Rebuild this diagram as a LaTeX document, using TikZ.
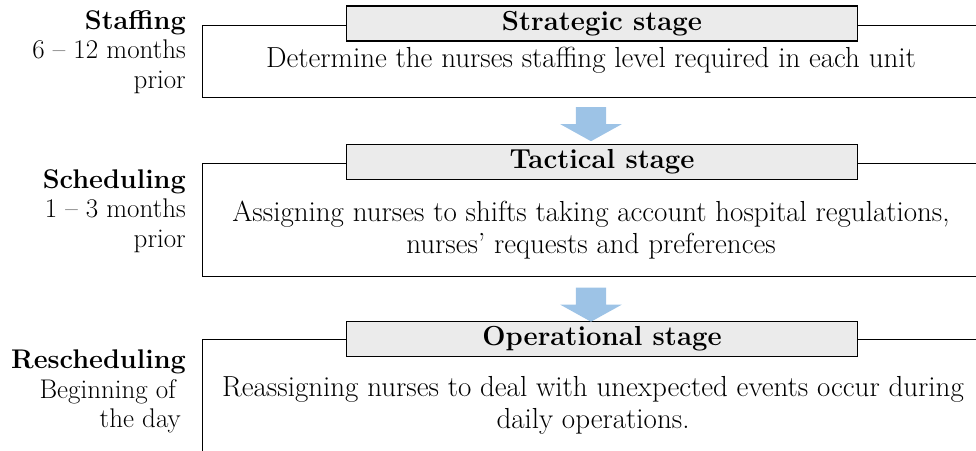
\documentclass[tikz,border=0pt]{standalone}
\usepackage{fontspec}
\usepackage{tikz}
\usetikzlibrary{shapes.arrows}
\usetikzlibrary{backgrounds}

\definecolor{stagegray}{HTML}{EBEBEB}
\definecolor{flowblue}{HTML}{9DC3E6}

\begin{document}
\begin{tikzpicture}[x=1pt, y=-1pt,
    every node/.style={font=\fontsize{29}{32}\selectfont},
    outer/.style={draw, line width=1.3pt, anchor=north west, inner sep=0pt},
    stage/.style={draw, line width=1.3pt, fill=stagegray, minimum width=511pt, minimum height=35pt, inner sep=0pt, font=\fontsize{27.5}{30}\selectfont\bfseries},
    body/.style={align=center},
    when/.style={align=right, anchor=east, inner sep=0pt, font=\fontsize{27}{29.5}\selectfont},
    flow/.style={single arrow, fill=flowblue, rotate=-90, inner xsep=0pt, inner ysep=15pt, minimum height=34pt, single arrow head extend=15.5pt, single arrow tip angle=122}]
        \useasboundingbox (0,0) rectangle (976,450);
        \clip (0,0) rectangle (976,450);

        \node[outer, minimum width=820pt, minimum height=72pt] (box1) at (202,25) {};
        \node[outer, minimum width=820pt, minimum height=113pt] (box2) at (202,163) {};
        \node[outer, minimum width=820pt, minimum height=140pt] (box3) at (202,339) {};

        \node[stage] (stage1) at (602,23.5) {Strategic stage};
        \node[stage] (stage2) at (602,162) {Tactical stage};
        \node[stage] (stage3) at (602,339) {Operational stage};

        \node[body] (text1) at (591,60) {Determine the nurses staffing level required in each unit};
        \node[body] (text2) at (591,230) {Assigning nurses to shifts taking account hospital regulations,\\nurses' requests and preferences};
        \node[body] (text3) at (593,405) {Reassigning nurses to deal with unexpected events occur during\\daily operations.};

        \node[when] (when1) at (186,52) {\textbf{Staffing}\\6 -- 12 months\\prior};
        \node[when] (when2) at (186,211) {\textbf{Scheduling}\\1 -- 3 months\\prior};
        \node[when] (when3) at (186,391.5) {\textbf{Rescheduling}\\Beginning of\rule{10pt}{0pt}\\the day\rule{5pt}{0pt}};

        % arrows between the stages
        \node[flow] (flow1) at (591,120) {};
        \node[flow] (flow2) at (591,300.5) {};
    \end{tikzpicture}
\end{document}
